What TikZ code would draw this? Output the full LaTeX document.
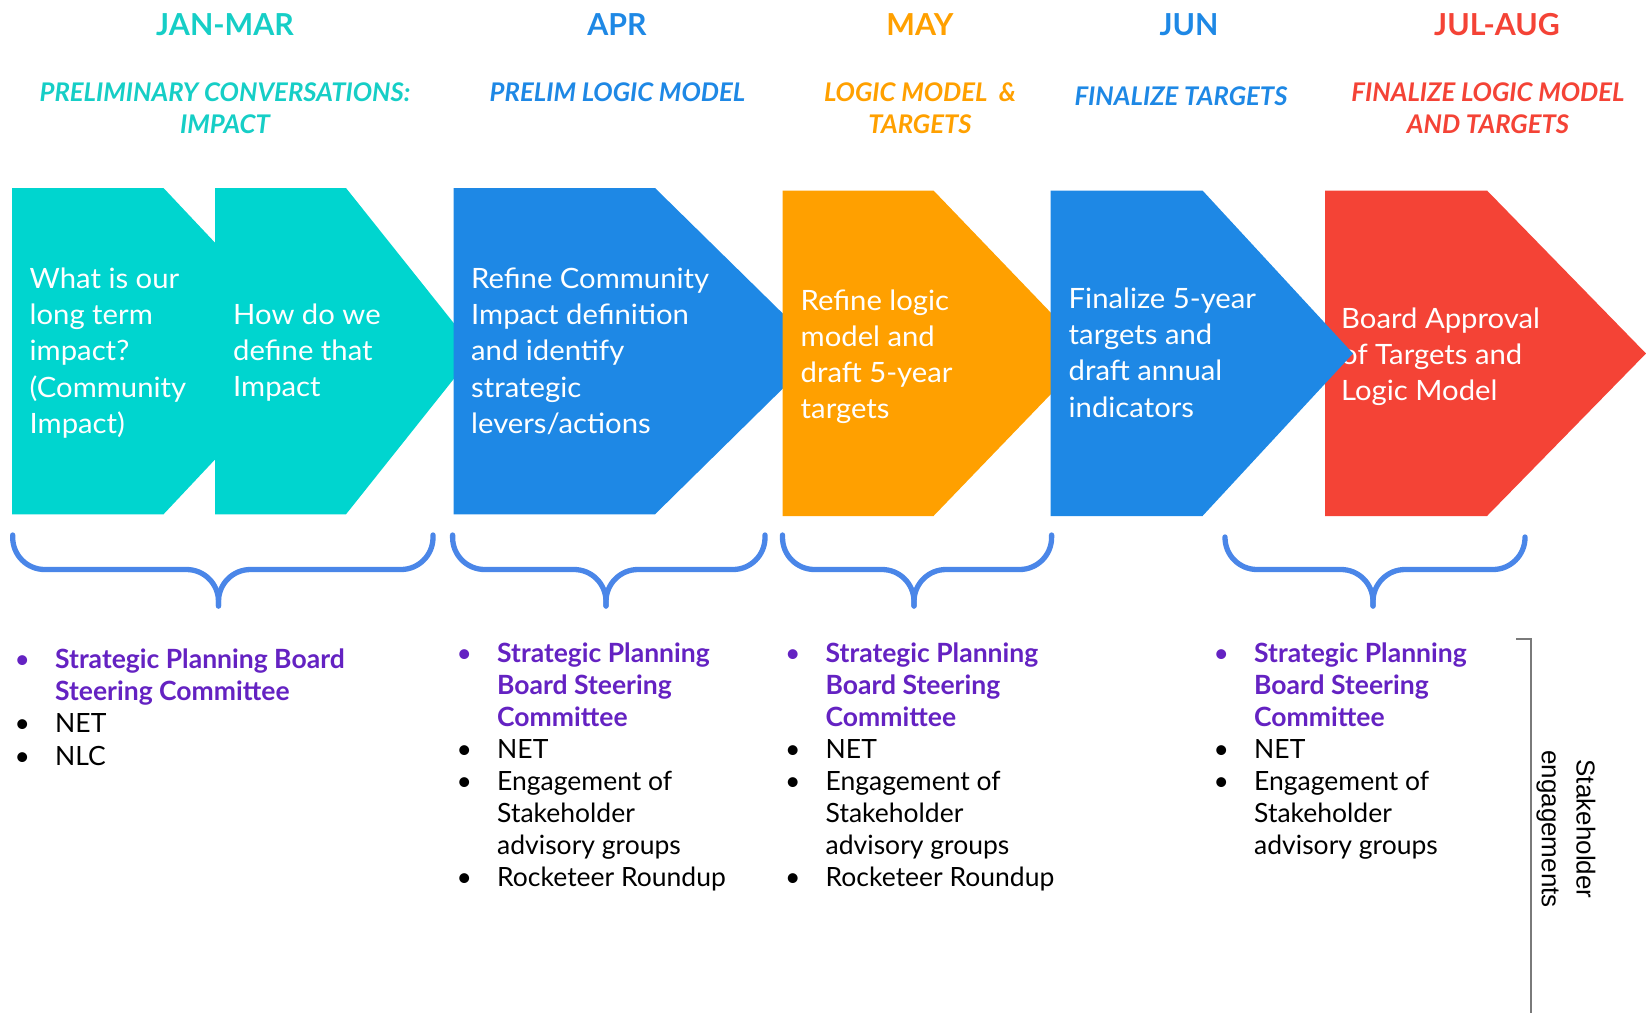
\documentclass[tikz,border=0pt]{standalone}
\usepackage{fontspec}
\setmainfont{Lato}
\newfontfamily\arialfont{Liberation Sans}
\newfontfamily\chevronfont[FakeStretch=1.045]{Lato}

\definecolor{tealfill}{HTML}{00D5CF}
\definecolor{tealtext}{HTML}{16CEC6}
\definecolor{bluefill}{HTML}{1E88E5}
\definecolor{orangefill}{HTML}{FFA000}
\definecolor{redfill}{HTML}{F44336}
\definecolor{braceblue}{HTML}{4A86E8}
\definecolor{plumtext}{HTML}{6422C2}
\definecolor{rulegray}{HTML}{7A7A7A}

% stacked lines with a fixed baseline pitch
\newcommand\leftlines[1]{\begin{tabular}{@{}l@{}}#1\end{tabular}}
\newcommand\centerlines[1]{\begin{tabular}{@{}c@{}}#1\end{tabular}}
% bullet list: zero-width bullet column, text 33pt to its right
\newenvironment{bullets}{\begin{tabular}{@{}c@{\hspace{33pt}}l@{}}}{\end{tabular}}
\newcommand\pbul{\makebox[0pt]{\textcolor{plumtext}{\textbullet}}}
\newcommand\kbul{\makebox[0pt]{\textbullet}}
\newcommand\ptext[1]{\textcolor{plumtext}{\bfseries #1}}

% curly brace: left end, tip, right end, top of the ends
\newcommand\drawbrace[4]{%
  \draw[bracestyle] (#1,#4) -- (#1,569.5) -- (#2,569.5) -- (#2,606);
  \draw[bracestyle] (#3,#4) -- (#3,569.5) -- (#2,569.5) -- (#2,606);}

\begin{document}
\begin{tikzpicture}[x=1pt,y=-1pt,
  hdr/.style={anchor=base, inner sep=0pt, font=\fontsize{30.3}{36}\selectfont\bfseries},
  sub/.style={anchor=north, inner sep=0pt, font=\fontsize{25.7}{31.6}\selectfont\bfseries\itshape},
  subone/.style={anchor=base, inner sep=0pt, font=\fontsize{25.7}{31.6}\selectfont\bfseries\itshape},
  body/.style={anchor=north west, inner sep=0pt, text=white, font=\chevronfont\fontsize{28}{36.2}\selectfont},
  lst/.style={anchor=north west, inner sep=0pt, font=\fontsize{26.5}{31.9}\selectfont},
  lstwide/.style={anchor=north west, inner sep=0pt, font=\fontsize{26.5}{32.3}\selectfont},
  bracestyle/.style={draw=braceblue, line width=5.3pt, line cap=round, line join=round, rounded corners=32pt},
  bracketline/.style={draw=rulegray, line width=2pt},
]
\useasboundingbox (0,0) rectangle (1646,1012);

% month headers
\node[hdr, text=tealtext]   (h1) at (225,35)  {JAN-MAR};
\node[hdr, text=bluefill]   (h2) at (617,35)  {APR};
\node[hdr, text=orangefill] (h3) at (920,35)  {MAY};
\node[hdr, text=bluefill]   (h4) at (1189,35) {JUN};
\node[hdr, text=redfill]    (h5) at (1497,35) {JUL-AUG};

% phase titles
\node[sub, text=tealtext]   (s1) at (225,79.6)  {\centerlines{PRELIMINARY CONVERSATIONS:\\IMPACT}};
\node[subone, text=bluefill](s2) at (617.5,101.7) {PRELIM LOGIC MODEL};
\node[sub, text=orangefill] (s3) at (920,79.6)  {\centerlines{LOGIC MODEL\ \ \&\\TARGETS}};
\node[subone, text=bluefill](s4) at (1181,105)  {FINALIZE TARGETS};
\node[sub, text=redfill]    (s5) at (1488,79.6) {\centerlines{FINALIZE LOGIC MODEL\\AND TARGETS}};

% chevrons
\fill[tealfill] (12,188) -- (163.5,188) -- (317,351) -- (163.5,514.3) -- (12,514.3) -- cycle;
\fill[tealfill] (215,188) -- (346,188) -- (476,351) -- (346,514.3) -- (215,514.3) -- cycle;
\fill[bluefill] (453.5,188) -- (655,188) -- (821,351) -- (655,514.3) -- (453.5,514.3) -- cycle;
\fill[orangefill] (782.7,190.5) -- (933.5,190.5) -- (1090,353.5) -- (933.5,516) -- (782.7,516) -- cycle;
\fill[redfill] (1325,190.5) -- (1487,190.5) -- (1646,353.5) -- (1487,516) -- (1325,516) -- cycle;

\node[body] (t1) at (29.5,263)  {\leftlines{What is our\\long term\\impact?\\(Community\\Impact)}};
\node[body] (t2) at (233,299)   {\leftlines{How do we\\define that\\Impact}};
\node[body] (t3) at (471,263)   {\leftlines{Refine Community\\Impact definition\\and identify\\strategic\\levers/actions}};
\node[body] (t4) at (800.5,284.7) {\leftlines{Refine logic\\model and\\draft 5-year\\targets}};
\node[body] (t6) at (1341,303)  {\leftlines{Board Approval\\of Targets and\\Logic Model}};

\fill[bluefill] (1050.7,190.5) -- (1202.5,190.5) -- (1353,353.5) -- (1202.5,516) -- (1050.7,516) -- cycle;
\node[body] (t5) at (1068.5,283) {\leftlines{Finalize 5-year\\targets and\\draft annual\\indicators}};

% braces
\drawbrace{12.7}{218.5}{433}{535}
\drawbrace{452.6}{606}{765}{535}
\drawbrace{782.5}{914}{1051.6}{535}
\drawbrace{1225}{1373}{1525}{537}

% participants
\node[lstwide] (l1) at (22,645.4) {\begin{bullets}
  \pbul & \ptext{Strategic Planning Board}\\
        & \ptext{Steering Committee}\\
  \kbul & NET\\
  \kbul & NLC
\end{bullets}};
\node[lst] (l2) at (464,640.4) {\begin{bullets}
  \pbul & \ptext{Strategic Planning}\\
        & \ptext{Board Steering}\\
        & \ptext{Committee}\\
  \kbul & NET\\
  \kbul & Engagement of\\
        & Stakeholder\\
        & advisory groups\\
  \kbul & Rocketeer Roundup
\end{bullets}};
\node[lst] (l3) at (792.5,640.4) {\begin{bullets}
  \pbul & \ptext{Strategic Planning}\\
        & \ptext{Board Steering}\\
        & \ptext{Committee}\\
  \kbul & NET\\
  \kbul & Engagement of\\
        & Stakeholder\\
        & advisory groups\\
  \kbul & Rocketeer Roundup
\end{bullets}};
\node[lst] (l4) at (1221,640.4) {\begin{bullets}
  \pbul & \ptext{Strategic Planning}\\
        & \ptext{Board Steering}\\
        & \ptext{Committee}\\
  \kbul & NET\\
  \kbul & Engagement of\\
        & Stakeholder\\
        & advisory groups
\end{bullets}};

% stakeholder bracket
\coordinate (tick) at (1516,639);
\coordinate (bend) at (1531,639);
\coordinate (foot) at (1531,1013);
\draw[bracketline] (tick) -- (bend) -- (foot);
\node[rotate=-90, align=center, inner sep=0pt, font=\arialfont\fontsize{26}{34.6}\selectfont] (sk) at (1566,829) {Stakeholder\\engagements};
\end{tikzpicture}
\end{document}
